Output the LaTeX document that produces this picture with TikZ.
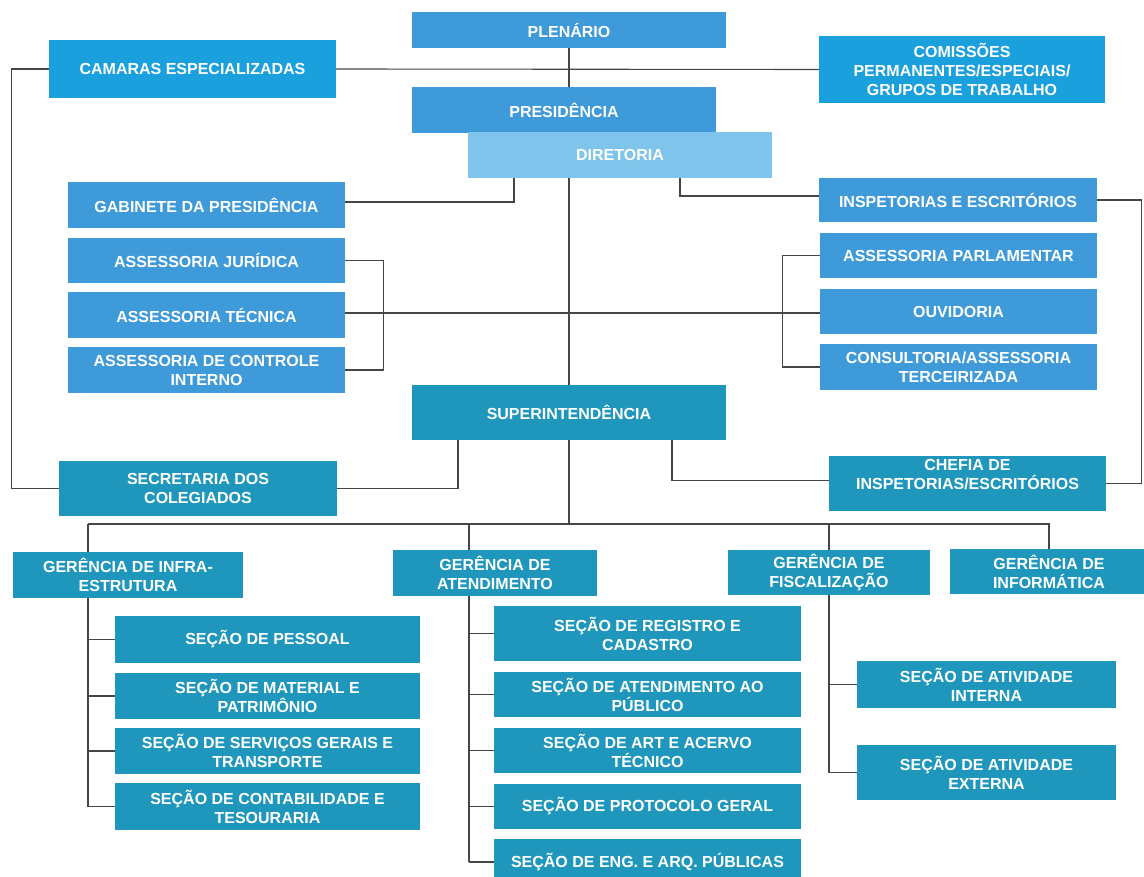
\documentclass[tikz,border=0pt]{standalone}
\usepackage{fontspec}
\setmainfont{Liberation Sans}
\usetikzlibrary{backgrounds}
\definecolor{midblue}{RGB}{62,154,216}
\definecolor{brightblue}{RGB}{27,160,222}
\definecolor{lightblue}{RGB}{126,196,235}
\definecolor{tealbox}{RGB}{31,151,189}
\definecolor{linegray}{RGB}{70,70,70}
\tikzset{
  box/.style={inner sep=0pt, align=center, text=white,
    font=\fontsize{16}{19}\selectfont\bfseries},
  mb/.style={box, fill=midblue},
  bb/.style={box, fill=brightblue},
  lb/.style={box, fill=lightblue},
  tb/.style={box, fill=tealbox},
  conn/.style={draw=linegray, line width=1.1pt}
}
\begin{document}
\begin{tikzpicture}[x=1pt,y=-1pt]
\useasboundingbox (0,0) rectangle (1144,877);
% top level
\node[mb, minimum width=314pt, minimum height=36pt] (plen) at (569,30) {PLENÁRIO};
\node[bb, minimum width=287pt, minimum height=58pt] (cam) at (192.5,69) {CAMARAS ESPECIALIZADAS};
\node[bb, minimum width=286pt, minimum height=67pt] (com) at (962,69.5) {COMISSÕES\\PERMANENTES/ESPECIAIS/\\GRUPOS DE TRABALHO};
\node[mb, minimum width=304pt, minimum height=46pt] (pres) at (564,110) {PRESIDÊNCIA};
\node[lb, minimum width=304pt, minimum height=46pt] (dir) at (620,155) {DIRETORIA};
% left column
\node[mb, minimum width=277pt, minimum height=46pt] (gab) at (206.5,205) {GABINETE DA PRESIDÊNCIA};
\node[mb, minimum width=277pt, minimum height=45pt] (jur) at (206.5,260.5) {ASSESSORIA JURÍDICA};
\node[mb, minimum width=277pt, minimum height=46pt] (tec) at (206.5,315) {ASSESSORIA TÉCNICA};
\node[mb, minimum width=277pt, minimum height=46pt] (ctrl) at (206.5,370) {ASSESSORIA DE CONTROLE\\INTERNO};
% right column
\node[mb, minimum width=278pt, minimum height=44pt] (insp) at (958,200) {INSPETORIAS E ESCRITÓRIOS};
\node[mb, minimum width=277pt, minimum height=45pt] (parl) at (958.5,255.5) {ASSESSORIA PARLAMENTAR};
\node[mb, minimum width=277pt, minimum height=45pt] (ouv) at (958.5,311.5) {OUVIDORIA};
\node[mb, minimum width=277pt, minimum height=46pt] (cons) at (958.5,367) {CONSULTORIA/ASSESSORIA\\TERCEIRIZADA};
% superintendencia level
\node[tb, minimum width=314pt, minimum height=55pt] (sup) at (569,412.5) {SUPERINTENDÊNCIA};
\node[tb, minimum width=278pt, minimum height=55pt] (sec) at (198,488.5) {SECRETARIA DOS\\COLEGIADOS};
\node[tb, minimum width=277pt, minimum height=55pt] (chef) at (967.5,483.5) {};
\node[box] at (967.5,474.5) {CHEFIA DE\\INSPETORIAS/ESCRITÓRIOS};
% gerencias
\node[tb, minimum width=230pt, minimum height=46pt] (ginf) at (128,575) {GERÊNCIA DE INFRA-\\ESTRUTURA};
\node[tb, minimum width=204pt, minimum height=46pt] (gat) at (495,573) {GERÊNCIA DE\\ATENDIMENTO};
\node[tb, minimum width=202pt, minimum height=45pt] (gfis) at (829,572.5) {GERÊNCIA DE\\FISCALIZAÇÃO};
\node[tb, minimum width=198pt, minimum height=45pt] (ginfo) at (1049,571.5) {GERÊNCIA DE\\INFORMÁTICA};
% infra sections
\node[tb, minimum width=305pt, minimum height=47pt] (pes) at (267.5,639.5) {SEÇÃO DE PESSOAL};
\node[tb, minimum width=305pt, minimum height=46pt] (mat) at (267.5,696) {SEÇÃO DE MATERIAL E\\PATRIMÔNIO};
\node[tb, minimum width=305pt, minimum height=46pt] (serv) at (267.5,751) {SEÇÃO DE SERVIÇOS GERAIS E\\TRANSPORTE};
\node[tb, minimum width=305pt, minimum height=47pt] (cont) at (267.5,806.5) {SEÇÃO DE CONTABILIDADE E\\TESOURARIA};
% atendimento sections
\node[tb, minimum width=307pt, minimum height=55pt] (reg) at (647.5,633.5) {SEÇÃO DE REGISTRO E\\CADASTRO};
\node[tb, minimum width=307pt, minimum height=45pt] (atp) at (647.5,694.5) {SEÇÃO DE ATENDIMENTO AO\\PÚBLICO};
\node[tb, minimum width=307pt, minimum height=45pt] (art) at (647.5,750.5) {SEÇÃO DE ART E ACERVO\\TÉCNICO};
\node[tb, minimum width=307pt, minimum height=45pt] (prot) at (647.5,806.5) {SEÇÃO DE PROTOCOLO GERAL};
\node[tb, minimum width=307pt, minimum height=46pt] (eng) at (647.5,862) {SEÇÃO DE ENG. E ARQ. PÚBLICAS};
% fiscalizacao sections
\node[tb, minimum width=259pt, minimum height=47pt] (int) at (986.5,684.5) {SEÇÃO DE ATIVIDADE\\INTERNA};
\node[tb, minimum width=259pt, minimum height=55pt] (ext) at (986.5,772.5) {SEÇÃO DE ATIVIDADE\\EXTERNA};
% bus coordinates
\coordinate (bA) at (88,524);
\coordinate (bB) at (469,524);
\coordinate (bC) at (829,524);
\coordinate (bD) at (ginfo.north |- bA);
\begin{pgfonlayer}{background}
\draw[conn] (plen.south) -- (sup.north);
\draw[conn] (cam.east) -- (com.west);
\draw[conn] (cam.west) -- ++(-37,0) |- (sec.west);
\draw[conn] (insp.east) -- ++(44,0) |- (chef.east);
\draw[conn] ([xshift=-106pt]dir.south) |- ([yshift=3pt]gab.east);
\draw[conn] ([xshift=60pt]dir.south) |- ([yshift=4pt]insp.west);
\draw[conn] (jur.east) -- ++(38,0) |- (ctrl.east);
\draw[conn] ([yshift=2pt]tec.east) -- ([yshift=2pt]tec.east -| ouv.west);
\draw[conn] (parl.west) -- ++(-37,0) |- (cons.west);
\draw[conn] ([xshift=-111pt]sup.south) |- (sec.east);
\draw[conn] ([xshift=103pt]sup.south) |- ([yshift=3pt]chef.west);
\draw[conn] (sup.south) -- (sup.south |- bA);
\draw[conn] (bA) -- (bD) -- (ginfo.north);
\draw[conn] (bA) -- (bA |- cont.west);
\foreach \n in {pes,mat,serv,cont} \draw[conn] (bA |- \n.west) -- (\n.west);
\draw[conn] (bB) -- (bB |- eng.west);
\foreach \n in {reg,atp,art,prot,eng} \draw[conn] (bB |- \n.west) -- (\n.west);
\draw[conn] (bC) -- (bC |- ext.west);
\foreach \n in {int,ext} \draw[conn] (bC |- \n.west) -- (\n.west);
\end{pgfonlayer}
\end{tikzpicture}
\end{document}
